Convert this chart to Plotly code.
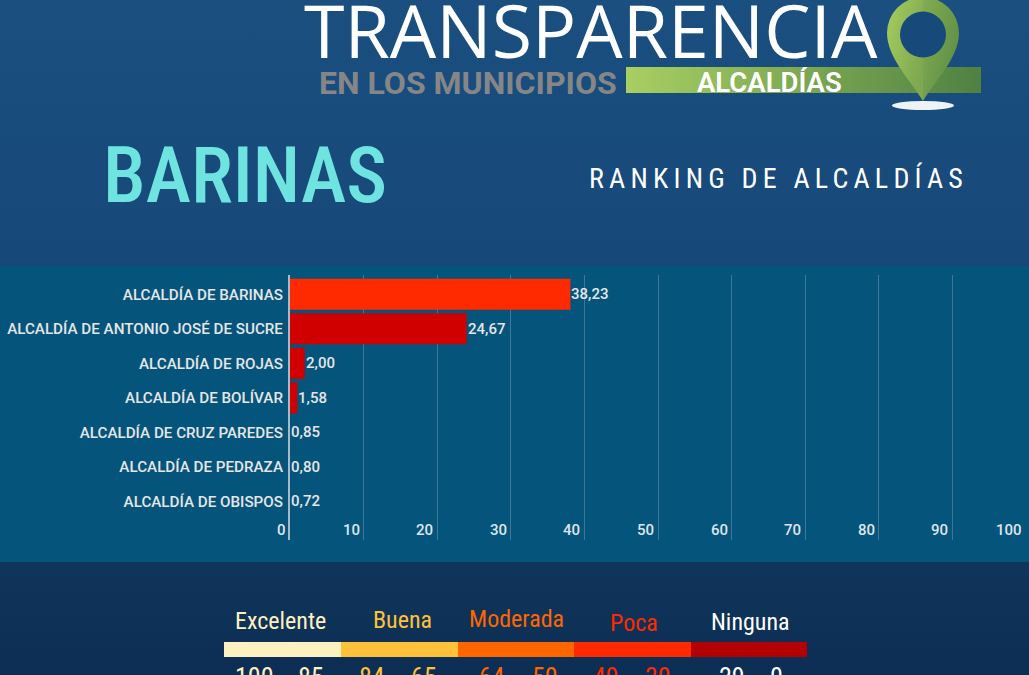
import base64
import plotly.graph_objects as go

categories = ["ALCALDÍA DE BARINAS", "ALCALDÍA DE ANTONIO JOSÉ DE SUCRE", "ALCALDÍA DE ROJAS",
              "ALCALDÍA DE BOLÍVAR", "ALCALDÍA DE CRUZ PAREDES", "ALCALDÍA DE PEDRAZA", "ALCALDÍA DE OBISPOS"]
bar_lengths = [38.1, 24.0, 2.0, 1.0, 0, 0, 0]
value_labels = ["38,23", "24,67", "2,00", "1,58", "0,85", "0,80", "0,72"]
bar_colors = ["#ff2a00", "#d00000", "#d00000", "#d00000", "#d00000", "#d00000", "#d00000"]
x_ticks = [0, 10, 20, 30, 40, 50, 60, 70, 80, 90, 100]

legend_names = ["Excelente", "Buena", "Moderada", "Poca", "Ninguna"]
legend_colors = ["#fff0c0", "#ffc139", "#ff6600", "#ff2a00", "#b30000"]
legend_text_colors = ["#fff0c0", "#ffc139", "#ff6600", "#ff2a00", "#ffffff"]
legend_label_x = [280, 402.5, 516, 634, 750.5]
legend_label_y = [621, 620, 619, 623, 622]
legend_edges = [224, 341, 458, 574, 691, 807]
range_labels = ["100", "85", "84", "65", "64", "50", "49", "30", "29", "0"]
range_x = [254, 310.5, 371.5, 424, 492, 544.5, 606, 657.5, 731.5, 776.5]
range_colors = ["#fff0c0", "#fff0c0", "#ffc139", "#ffc139", "#ff6600", "#ff6600", "#ff2a00", "#ff2a00", "#ffffff", "#ffffff"]

W, H = 1029, 675
NARROW = "Roboto Condensed, Roboto"


def px(x):
    return x / W


def py(y):
    return 1 - y / H


art = f'''<svg xmlns="http://www.w3.org/2000/svg" width="{W}" height="{H}" viewBox="0 0 {W} {H}">
<defs>
<linearGradient id="top" x1="0" y1="0" x2="0" y2="1">
<stop offset="0" stop-color="#1a4f80"/><stop offset="1" stop-color="#17487a"/>
</linearGradient>
<linearGradient id="bot" x1="0" y1="0" x2="0" y2="1">
<stop offset="0" stop-color="#10355a"/><stop offset="1" stop-color="#0d2e54"/>
</linearGradient>
<linearGradient id="band" x1="0" y1="0" x2="1" y2="0">
<stop offset="0" stop-color="#a9cf62"/><stop offset="1" stop-color="#4f8143"/>
</linearGradient>
<linearGradient id="pinL" x1="0" y1="0" x2="1" y2="0.6">
<stop offset="0" stop-color="#a6ce5e"/><stop offset="1" stop-color="#7fa851"/>
</linearGradient>
<linearGradient id="pinR" x1="0" y1="0" x2="1" y2="0.6">
<stop offset="0" stop-color="#83ad52"/><stop offset="1" stop-color="#5f8f47"/>
</linearGradient>
</defs>
<rect width="{W}" height="266" fill="url(#top)"/>
<rect y="266" width="{W}" height="296" fill="#05547c"/>
<rect y="562" width="{W}" height="113" fill="url(#bot)"/>
<rect x="626" y="67" width="355" height="26" fill="url(#band)"/>
<ellipse cx="923" cy="105.5" rx="31" ry="4.5" fill="#eef3f6"/>
<path d="M923 -3 A36 36 0 0 0 887 33 C887 58 912 82 923 101 Z" fill="url(#pinL)"/>
<path d="M923 -3 A36 36 0 0 1 959 33 C959 58 934 82 923 101 Z" fill="url(#pinR)"/>
<circle cx="923" cy="34.5" r="23" fill="#174a7b"/>
</svg>'''
art_uri = "data:image/svg+xml;base64," + base64.b64encode(art.encode()).decode()

fig = go.Figure()
fig.add_trace(go.Bar(
    y=list(range(len(categories))), x=bar_lengths, orientation="h",
    marker=dict(color=bar_colors, line=dict(width=0)), width=0.9,
    hoverinfo="skip", showlegend=False,
))

ann = []


def label(text, x, y, size, color, family, anchor="center", weight=None):
    ann.append(dict(text=text, x=px(x), y=py(y), xref="paper", yref="paper", xanchor=anchor, yanchor="middle",
                    showarrow=False, borderpad=0,
                    font=dict(family=family, size=size, color=color, weight=weight)))


label("TRANSPARENCIA", 303, 30, 73.5, "#ffffff", "Open Sans", anchor="left", weight=400)
label("EN LOS MUNICIPIOS", 318, 83, 32, "#868686", "Roboto", anchor="left", weight=700)
label("ALCALDÍAS", 769, 82, 27.5, "#ffffff", "Roboto", weight=600)
label("BARINAS", 245, 176, 77, "#6ee3df", NARROW, weight=500)
label("RANKING DE ALCALDÍAS", 778.5, 178, 28, "#ffffff", NARROW)

for name, x, y, c in zip(legend_names, legend_label_x, legend_label_y, legend_text_colors):
    label(name, x, y, 24, c, NARROW)
for t, x, c in zip(range_labels, range_x, range_colors):
    label(t, x, 677, 26, c, NARROW)

for v in x_ticks:
    ann.append(dict(text=str(v), x=v, y=6.83, xref="x", yref="y", xanchor="right", yanchor="middle",
                    xshift=-3, showarrow=False, borderpad=0,
                    font=dict(family="Roboto", size=15, color="#dfe6ea", weight=500)))
for i, t in enumerate(value_labels):
    ann.append(dict(text=t, x=bar_lengths[i], y=i, xref="x", yref="y", xanchor="left", yanchor="middle",
                    xshift=0, showarrow=False, borderpad=0,
                    font=dict(family="Roboto", size=15, color="#e6e6e6", weight=500)))

shapes = []
for i, c in enumerate(legend_colors):
    shapes.append(dict(type="rect", xref="paper", yref="paper", x0=px(legend_edges[i]), x1=px(legend_edges[i + 1]),
                       y0=py(657), y1=py(642), fillcolor=c, line=dict(width=0), layer="above"))

fig.update_layout(
    width=W, height=H, autosize=False,
    margin=dict(l=0, r=0, t=0, b=0, pad=0),
    paper_bgcolor="#0f3358", plot_bgcolor="rgba(0,0,0,0)",
    xaxis=dict(domain=[px(290), px(1026)], range=[0, 100], tickvals=x_ticks, showticklabels=False,
               showgrid=True, gridcolor="#3d7898", gridwidth=1, zeroline=False, showline=False, ticks=""),
    yaxis=dict(domain=[py(540), py(275)], range=[7.12, -0.56], tickvals=list(range(len(categories))),
               ticktext=categories, ticks="outside", ticklen=2, tickcolor="rgba(0,0,0,0)", showgrid=False,
               zeroline=False, showline=True, linecolor="#a9bac6", linewidth=2,
               tickfont=dict(family="Roboto", size=15.2, color="#e6e6e6", weight=500)),
    images=[dict(source=art_uri, xref="paper", yref="paper", x=0, y=1, sizex=1, sizey=1,
                 sizing="stretch", xanchor="left", yanchor="top", layer="below")],
    annotations=ann, shapes=shapes,
)

post = """document.body.style.margin='0';document.body.style.overflow='hidden';
document.querySelectorAll('.annotation-text').forEach(function(t){
 if(t.textContent==='RANKING DE ALCALDÍAS'){t.style.letterSpacing='5.2px';}
});"""
fig.write_html("out.html", post_script=post, config={"displayModeBar": False})
